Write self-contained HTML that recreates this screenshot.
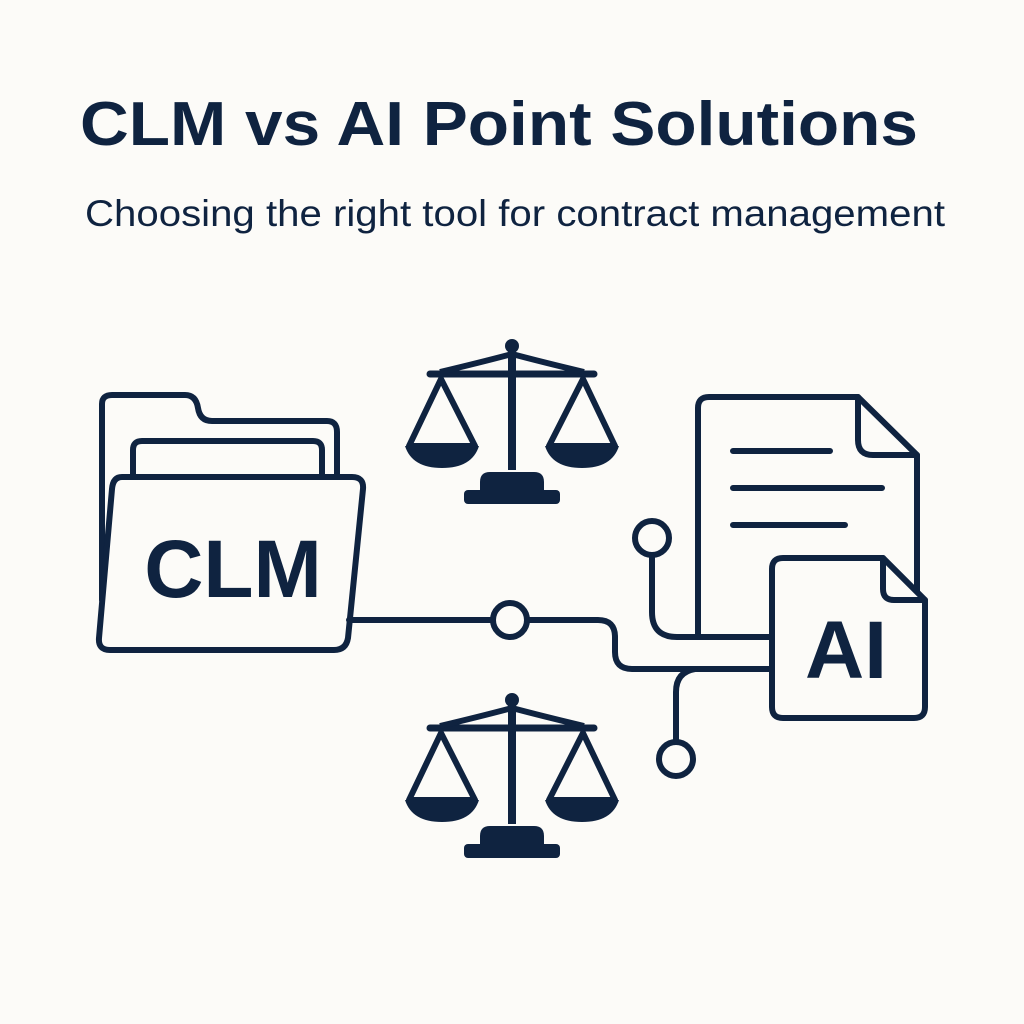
<!DOCTYPE html>
<html><head><meta charset="utf-8"><style>
html,body{margin:0;padding:0;background:#fcfbf8;}
svg{display:block}
</style></head><body>
<svg width="1024" height="1024" viewBox="0 0 1024 1024" xmlns="http://www.w3.org/2000/svg">
<rect width="1024" height="1024" fill="#fcfbf8"/>
<g fill="#0f2340" font-family="Liberation Sans, sans-serif">
<text x="80" y="145" font-size="62" font-weight="bold" textLength="838" lengthAdjust="spacingAndGlyphs">CLM vs AI Point Solutions</text>
<text x="85" y="226" font-size="37" textLength="860" lengthAdjust="spacingAndGlyphs">Choosing the right tool for contract management</text>
</g>
<g fill="none" stroke="#0f2340" stroke-width="6" stroke-linejoin="round" stroke-linecap="round">
<path d="M102 600 V404 Q102 395 112 395 H185 Q196 395 198 408 Q200 421 212 421 H327 Q337 421 337 432 V478"/>
<path d="M133 478 V450 Q133 441 142 441 H313 Q322 441 322 450 V478"/>
<path d="M122 477 H352 Q364 477 363 489 L348 638 Q346 650 334 650 H110 Q98 650 99 638 L112 489 Q113 477 122 477 Z" fill="#fcfbf8"/>
<path d="M349 620 H491"/>
<path d="M529 620 H598 Q615 620 615 637 V652 Q615 669 632 669 H772"/>
<circle cx="510" cy="620" r="17"/>
<path d="M652 556 V612 Q652 637 677 637 H772"/>
<circle cx="652" cy="538" r="17"/>
<path d="M695 669 Q676 672 676 692 V741"/>
<circle cx="676" cy="759" r="17"/>
<path d="M698 637 V408 Q698 397 709 397 H858 L917 455 V595"/>
<path d="M858 397 V440 Q858 455 873 455 H917"/>
<path d="M733 451 H830 M733 488 H882 M733 525 H845"/>
<path d="M783 558 H883 L925 600 V707 Q925 718 914 718 H783 Q772 718 772 707 V569 Q772 558 783 558 Z" fill="#fcfbf8"/>
<path d="M883 558 V589 Q883 600 894 600 H925"/>
</g>
<g fill="#0f2340" font-family="Liberation Sans, sans-serif" font-weight="bold">
<text x="233" y="597" font-size="82" text-anchor="middle">CLM</text>
<text x="846" y="678" font-size="82" text-anchor="middle">AI</text>
</g>
<defs>
<g id="scale">
<circle cx="0" cy="0" r="7" fill="#0f2340"/>
<path d="M-82 28 H82" stroke="#0f2340" stroke-width="7" stroke-linecap="round"/>
<path d="M-72 26 Q-30 16 0 8 Q30 16 72 26" stroke="#0f2340" stroke-width="6" fill="none"/>
<rect x="-4" y="2" width="8" height="122" fill="#0f2340"/>
<g stroke="#0f2340" stroke-width="6" fill="none" stroke-linejoin="round">
<path d="M-103 100 L-71 33 L-37 100 Z"/>
<path d="M103 100 L71 33 L37 100 Z"/>
</g>
<path d="M-107 100 H-33 Q-40 122 -70 122 Q-100 122 -107 100 Z" fill="#0f2340"/>
<path d="M33 100 H107 Q100 122 70 122 Q40 122 33 100 Z" fill="#0f2340"/>
<path d="M-32 146 V136 Q-32 126 -22 126 H22 Q32 126 32 136 V146 Z" fill="#0f2340"/>
<rect x="-48" y="144" width="96" height="14" rx="4" fill="#0f2340"/>
</g>
</defs>
<use href="#scale" x="512" y="346"/>
<use href="#scale" x="512" y="700"/>
</svg>
</body></html>
